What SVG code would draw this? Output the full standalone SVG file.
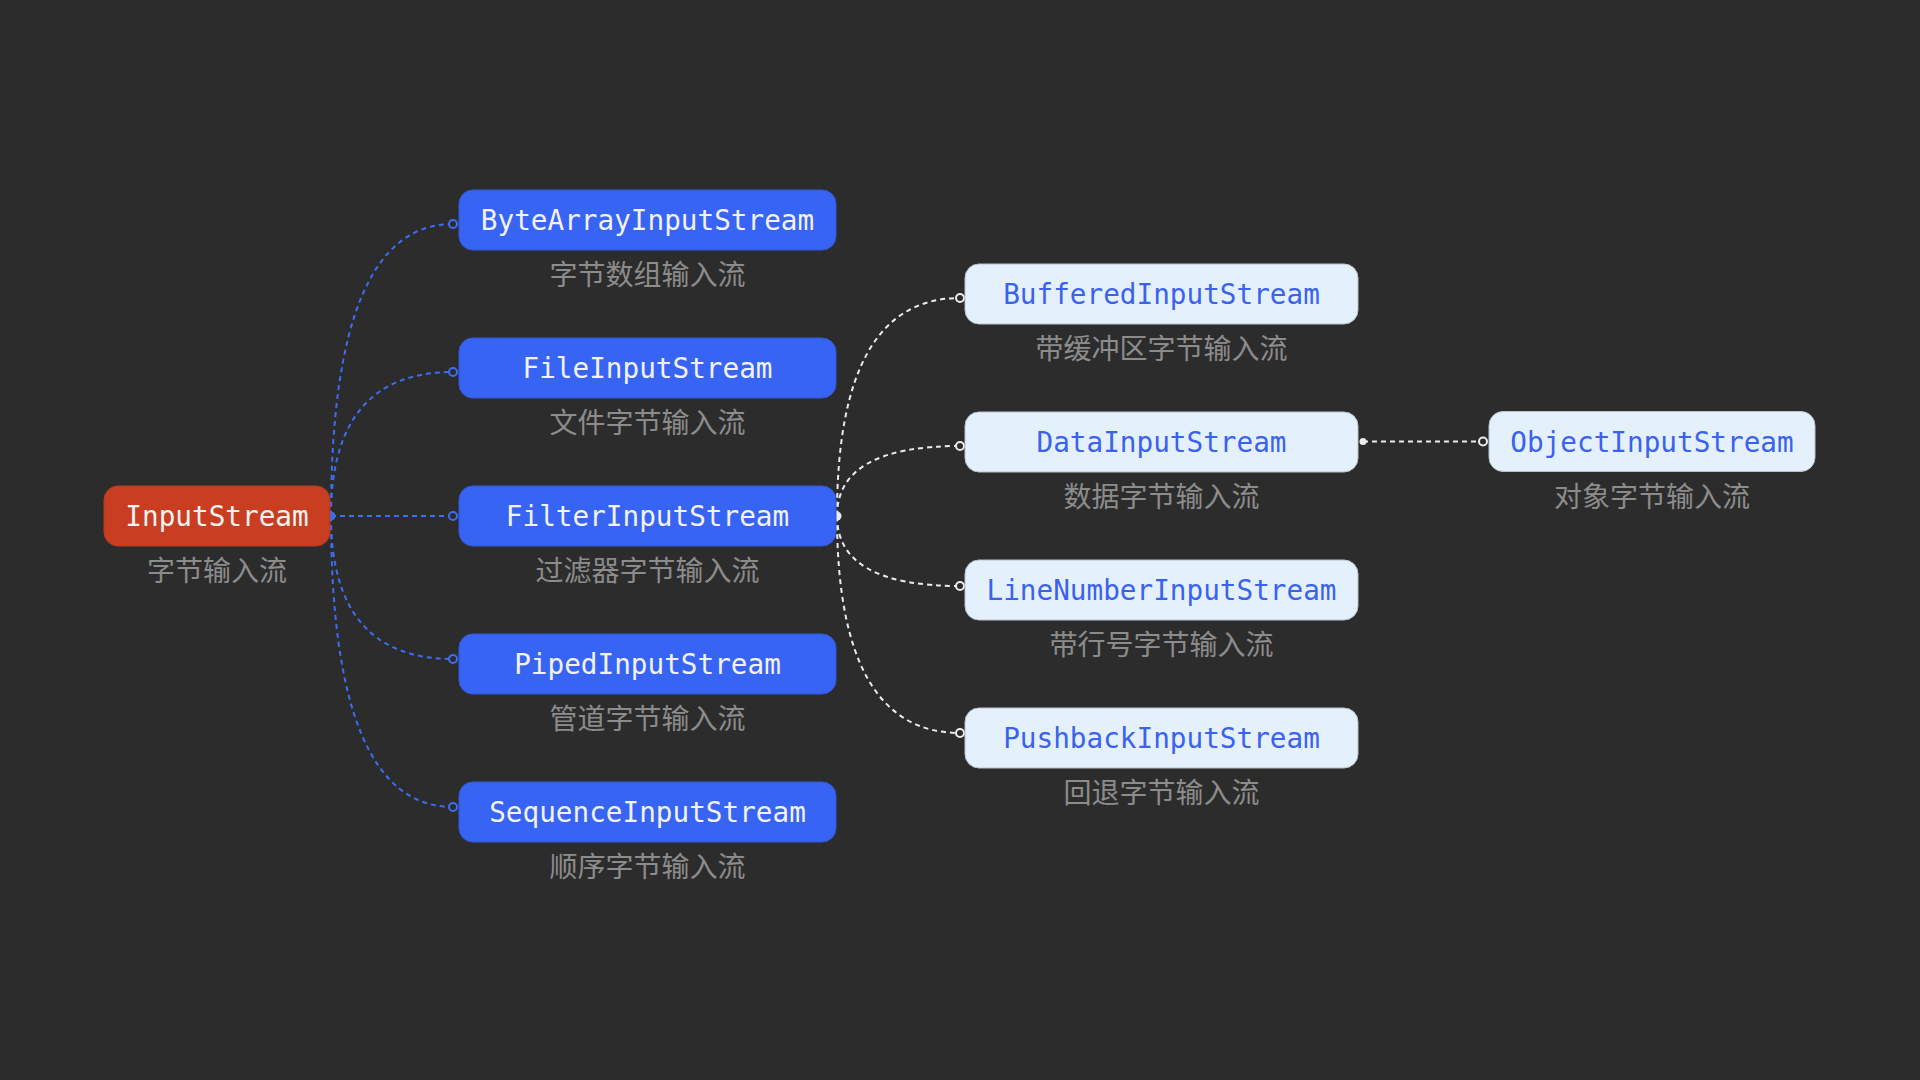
<svg xmlns="http://www.w3.org/2000/svg" width="1920" height="1080" viewBox="0 0 1920 1080">
<defs>
<style>
.bg{fill:#2c2c2c}
.root rect{fill:#c93e21;stroke:#b8381e;stroke-width:1}
.blue rect{fill:#3864f4;stroke:#3259dc;stroke-width:1}
.light rect{fill:#e4f1fc;stroke:#b9c2cc;stroke-width:1}
.name{font-family:"DejaVu Sans Mono","Liberation Mono",monospace;font-size:27.7px;text-anchor:middle}
.root .name,.blue .name{fill:#f2f2f2}
.light .name{fill:#3a62ee}
.sub{font-family:"Noto Sans CJK SC","Noto Sans",sans-serif;font-size:28px;fill:#8c8c8c;text-anchor:middle}
.cb{fill:none;stroke:#3d6ef2;stroke-width:2;stroke-dasharray:5 4}
.cw{fill:none;stroke:#ececec;stroke-width:2;stroke-dasharray:5 4}
</style>
<marker id="ob" viewBox="-6 -6 12 12" markerWidth="12" markerHeight="12" markerUnits="userSpaceOnUse" refX="0" refY="0" orient="auto">
<circle r="4" fill="#2c2c2c" stroke="#3d6ef2" stroke-width="2"/>
</marker>
<marker id="ow" viewBox="-6 -6 12 12" markerWidth="12" markerHeight="12" markerUnits="userSpaceOnUse" refX="0" refY="0" orient="auto">
<circle r="4" fill="#2c2c2c" stroke="#ececec" stroke-width="2"/>
</marker>
</defs>
<rect class="bg" x="0" y="0" width="1920" height="1080"/>

<g id="connectors">
<path class="cb" d="M331 516 Q331 224 453 224" marker-end="url(#ob)"/>
<path class="cb" d="M331 516 Q331 372 453 372" marker-end="url(#ob)"/>
<path class="cb" d="M331 516 L453 516" marker-end="url(#ob)"/>
<path class="cb" d="M331 516 Q331 659 453 659" marker-end="url(#ob)"/>
<path class="cb" d="M331 516 Q331 807 453 807" marker-end="url(#ob)"/>
<circle cx="331" cy="516" r="4.5" fill="#3d6ef2"/>
<path class="cw" d="M837 516 Q837 298 960 298" marker-end="url(#ow)"/>
<path class="cw" d="M837 516 Q837 446 960 446" marker-end="url(#ow)"/>
<path class="cw" d="M837 516 Q837 586 960 586" marker-end="url(#ow)"/>
<path class="cw" d="M837 516 Q837 733 960 733" marker-end="url(#ow)"/>
<circle cx="837" cy="516" r="4.5" fill="#ececec"/>
<path class="cw" d="M1363 441.5 L1483 441.5" marker-end="url(#ow)"/>
<circle cx="1363" cy="441.5" r="3.5" fill="#ececec"/>
</g>

<g id="InputStream" class="root">
<rect x="104" y="486" width="226" height="60" rx="14"/>
<text class="name" x="217" y="526">InputStream</text>
<text class="sub" x="217" y="581">字节输入流</text>
</g>

<g id="ByteArrayInputStream" class="blue">
<rect x="459" y="190" width="377" height="60" rx="14"/>
<text class="name" x="647.5" y="230">ByteArrayInputStream</text>
<text class="sub" x="647.5" y="285">字节数组输入流</text>
</g>
<g id="FileInputStream" class="blue">
<rect x="459" y="338" width="377" height="60" rx="14"/>
<text class="name" x="647.5" y="378">FileInputStream</text>
<text class="sub" x="647.5" y="433">文件字节输入流</text>
</g>
<g id="FilterInputStream" class="blue">
<rect x="459" y="486" width="377" height="60" rx="14"/>
<text class="name" x="647.5" y="526">FilterInputStream</text>
<text class="sub" x="647.5" y="581">过滤器字节输入流</text>
</g>
<g id="PipedInputStream" class="blue">
<rect x="459" y="634" width="377" height="60" rx="14"/>
<text class="name" x="647.5" y="674">PipedInputStream</text>
<text class="sub" x="647.5" y="729">管道字节输入流</text>
</g>
<g id="SequenceInputStream" class="blue">
<rect x="459" y="782" width="377" height="60" rx="14"/>
<text class="name" x="647.5" y="822">SequenceInputStream</text>
<text class="sub" x="647.5" y="877">顺序字节输入流</text>
</g>

<g id="BufferedInputStream" class="light">
<rect x="965" y="264" width="393" height="60" rx="14"/>
<text class="name" x="1161.5" y="304">BufferedInputStream</text>
<text class="sub" x="1161.5" y="359">带缓冲区字节输入流</text>
</g>
<g id="DataInputStream" class="light">
<rect x="965" y="412" width="393" height="60" rx="14"/>
<text class="name" x="1161.5" y="452">DataInputStream</text>
<text class="sub" x="1161.5" y="507">数据字节输入流</text>
</g>
<g id="LineNumberInputStream" class="light">
<rect x="965" y="560" width="393" height="60" rx="14"/>
<text class="name" x="1161.5" y="600">LineNumberInputStream</text>
<text class="sub" x="1161.5" y="655">带行号字节输入流</text>
</g>
<g id="PushbackInputStream" class="light">
<rect x="965" y="708" width="393" height="60" rx="14"/>
<text class="name" x="1161.5" y="748">PushbackInputStream</text>
<text class="sub" x="1161.5" y="803">回退字节输入流</text>
</g>

<g id="ObjectInputStream" class="light">
<rect x="1489" y="411.5" width="326" height="60" rx="14"/>
<text class="name" x="1652" y="451.5">ObjectInputStream</text>
<text class="sub" x="1652" y="506.5">对象字节输入流</text>
</g>
</svg>
